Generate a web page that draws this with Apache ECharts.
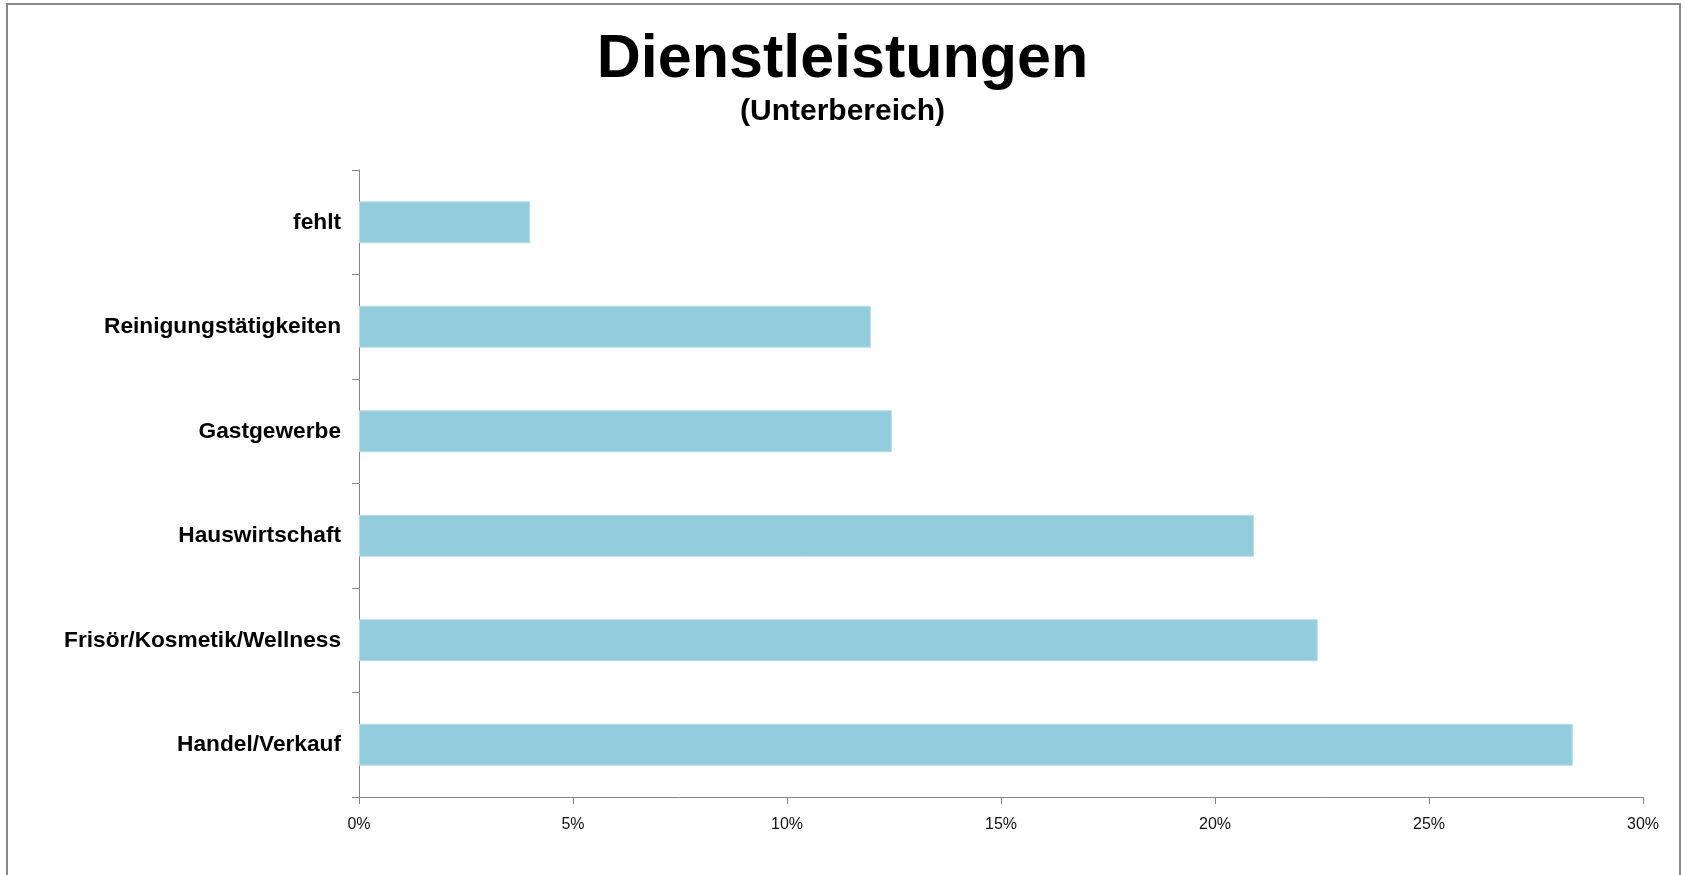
<!DOCTYPE html>
<html>
<head>
<meta charset="utf-8">
<script src="https://cdn.jsdelivr.net/npm/echarts@6/dist/echarts.min.js"></script>
<style>
  html, body { margin: 0; padding: 0; background: #fff; }
  #chart { width: 1685px; height: 875px; }
</style>
</head>
<body>
<div id="chart"></div>
<script>
// categories bottom to top (ECharts draws the first one at the bottom)
const categories = [
  "Handel/Verkauf",
  "Frisör/Kosmetik/Wellness",
  "Hauswirtschaft",
  "Gastgewerbe",
  "Reinigungstätigkeiten",
  "fehlt",
];
const shares = [28.36, 22.4, 20.91, 12.45, 11.96, 4.0];
const xTicks = [0, 5, 10, 15, 20, 25, 30];

const myChart = echarts.init(document.getElementById("chart"));

const axisGray = "#868686";

const option = {
  animation: false,
  backgroundColor: "#ffffff",
  title: [
    {
      text: "Dienstleistungen",
      left: "center",
      top: 25,
      textStyle: {
        fontFamily: "Liberation Sans",
        fontWeight: "bold",
        fontSize: 61,
        color: "#000",
      },
    },
    {
      text: "(Unterbereich)",
      left: "center",
      top: 92,
      textStyle: {
        fontFamily: "Liberation Sans",
        fontWeight: "bold",
        fontSize: 30,
        color: "#000",
      },
    },
  ],
  graphic: [
    {
      type: "rect",
      shape: { x: 7, y: 4, width: 1673, height: 880 },
      style: { fill: "none", stroke: "#898989", lineWidth: 2 },
      silent: true,
    },
  ],
  grid: {
    left: 359,
    right: 42,
    top: 170,
    bottom: 78,
  },
  xAxis: {
    type: "value",
    min: xTicks[0],
    max: xTicks[xTicks.length - 1],
    interval: 5,
    splitLine: { show: false },
    axisLine: { show: true, lineStyle: { color: axisGray, width: 1 } },
    axisTick: { show: true, length: 7, lineStyle: { color: axisGray } },
    axisLabel: {
      margin: 20,
      fontFamily: "Liberation Sans",
      fontSize: 16,
      color: "#111",
      formatter: (v) => v + "%",
    },
  },
  yAxis: {
    type: "category",
    data: categories,
    boundaryGap: true,
    axisLine: { show: true, lineStyle: { color: axisGray, width: 1 } },
    axisTick: { show: true, length: 7, alignWithLabel: false, lineStyle: { color: axisGray } },
    axisLabel: {
      margin: 18,
      fontFamily: "Liberation Sans",
      fontWeight: "bold",
      fontSize: 22.7,
      color: "#000",
      padding: [3, 0, 0, 0],
    },
  },
  series: [
    {
      type: "bar",
      data: shares,
      barWidth: 42,
      itemStyle: {
        color: "#93CDDD",
        borderColor: "#B7DEE8",
        borderWidth: 1,
      },
    },
  ],
};

myChart.setOption(option);

window.addEventListener("resize", () => myChart.resize());
</script>
</body>
</html>
